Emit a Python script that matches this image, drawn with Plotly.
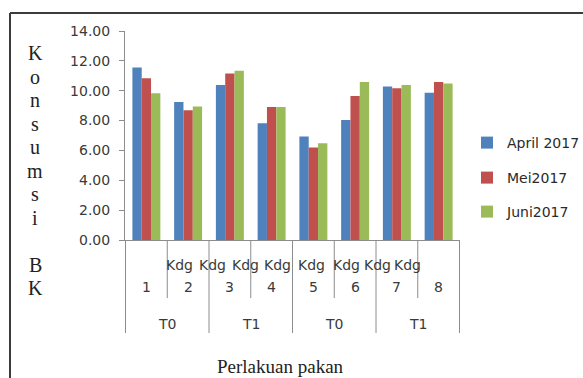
import plotly.graph_objects as go

# ---- data ----
categories = ["Kdg 1", "Kdg 2", "Kdg 3", "Kdg 4", "Kdg 5", "Kdg 6", "Kdg 7", "Kdg 8"]
groups = ["T0", "T0", "T1", "T1", "T0", "T0", "T1", "T1"]
series_names = ["April 2017", "Mei2017", "Juni2017"]
april = [11.55, 9.25, 10.39, 7.82, 6.93, 8.04, 10.28, 9.87]
mei = [10.84, 8.69, 11.15, 8.91, 6.19, 9.65, 10.16, 10.59]
juni = [9.83, 8.94, 11.33, 8.91, 6.48, 10.59, 10.39, 10.48]
y_title = "Konsumsi BK"
x_title = "Perlakuan pakan"

colors = ["#4F81BD", "#C0504D", "#9BBB59"]
W, H = 583, 378
ml, mr, mt, mb = 125, 123, 31, 138
pw, ph = W - ml - mr, H - mt - mb

def px_x(x):
    return (x - ml) / pw

def px_y(y):
    return (H - mb - y) / ph

fig = go.Figure()
legends = ["legend", "legend2", "legend3"]
for name, vals, col, lg in zip(series_names, [april, mei, juni], colors, legends):
    fig.add_trace(go.Bar(x=categories, y=vals, name=name, marker_color=col,
                         marker_line_width=0, legend=lg))

axis_col = "#8c8c8c"
shapes = []
annotations = []

# category separators (inner short, group boundaries long)
n = len(categories)
for b in range(n + 1):
    pos = b - 0.5
    long_sep = (b % 2 == 0)
    y1 = px_y(333) if long_sep else px_y(298)
    shapes.append(dict(type="line", xref="x", yref="paper", x0=pos, x1=pos,
                       y0=0, y1=y1, line=dict(color=axis_col, width=1)))

# tick label rows
kdg_offsets = [0.79, 0.58, 0.37, 0.13, -0.04, -0.20, -0.46, -0.74]
tick_font = dict(family="DejaVu Sans", size=14, color="#3a3a3a")
for i, cat in enumerate(categories):
    word, num = cat.split(" ")
    annotations.append(dict(x=i + kdg_offsets[i], y=px_y(265), xref="x", yref="paper",
                            text=word, showarrow=False, font=tick_font,
                            xanchor="center", yanchor="middle"))
    annotations.append(dict(x=i, y=px_y(287), xref="x", yref="paper",
                            text=num, showarrow=False, font=tick_font,
                            xanchor="center", yanchor="middle"))
for g in range(0, n, 2):
    annotations.append(dict(x=g + 0.5, y=px_y(324), xref="x", yref="paper",
                            text=groups[g], showarrow=False, font=tick_font,
                            xanchor="center", yanchor="middle"))

# x title
serif = dict(family="Liberation Serif", size=20, color="#222222")
annotations.append(dict(x=px_x(280), y=px_y(366), xref="paper", yref="paper",
                        text=x_title, showarrow=False,
                        font=dict(family="Liberation Serif", size=19, color="#222222"),
                        xanchor="center", yanchor="middle"))
# stacked y title
for k, ch in enumerate(y_title):
    if ch == " ":
        continue
    annotations.append(dict(x=px_x(35), y=px_y(53 + 23.5 * k), xref="paper", yref="paper",
                            text=ch, showarrow=False, font=serif,
                            xanchor="center", yanchor="middle"))

# outer frame
shapes.append(dict(type="line", xref="paper", yref="paper", x0=px_x(10), x1=px_x(600),
                   y0=px_y(13), y1=px_y(13), line=dict(color="#3c3c3c", width=2)))
shapes.append(dict(type="line", xref="paper", yref="paper", x0=px_x(10), x1=px_x(10),
                   y0=px_y(13), y1=px_y(400), line=dict(color="#3c3c3c", width=2)))

leg_font = dict(family="DejaVu Sans", size=14, color="#2a2a2a")
leg_common = dict(x=px_x(467), xanchor="left", yanchor="middle", font=leg_font,
                  bgcolor="rgba(0,0,0,0)", borderwidth=0, itemwidth=30)

fig.update_layout(
    width=W, height=H,
    margin=dict(l=ml, r=mr, t=mt, b=mb, autoexpand=False),
    paper_bgcolor="white", plot_bgcolor="white",
    barmode="group", bargap=0.33, bargroupgap=0,
    showlegend=True,
    legend=dict(y=px_y(143), **leg_common),
    legend2=dict(y=px_y(178), **leg_common),
    legend3=dict(y=px_y(212), **leg_common),
    xaxis=dict(type="category", showticklabels=False, showgrid=False, zeroline=False,
               showline=True, linecolor=axis_col, linewidth=1, ticks=""),
    yaxis=dict(range=[0, 14], dtick=2, tickformat=".2f", showgrid=False, zeroline=False,
               showline=True, linecolor=axis_col, linewidth=1, ticks="outside",
               ticklen=5, tickcolor=axis_col, tickfont=tick_font, ticklabelstandoff=6),
    shapes=shapes,
    annotations=annotations,
)

fig.write_html("out.html")
